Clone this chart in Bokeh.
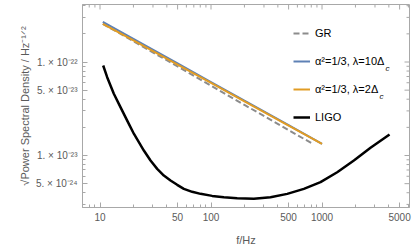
import math
from bokeh.plotting import figure
from bokeh.models import (FixedTicker, CustomJSTickFormatter, Range1d,
                          Legend, LegendItem, Label)
from bokeh.embed import file_html
from bokeh.resources import INLINE

# ---- data ----
f_model = [10.6, 20, 50, 100, 200, 500, 1000]
psd_blue = [2.69e-22, 1.77e-22, 9.66e-23, 6.11e-23, 3.86e-23, 2.11e-23, 1.33e-23]
psd_orange = [2.56e-22, 1.70e-22, 9.36e-23, 5.97e-23, 3.80e-23, 2.09e-23, 1.33e-23]
f_gr = [10.6, 20, 50, 100, 200, 500, 800]
psd_gr = [2.56e-22, 1.67e-22, 8.95e-23, 5.58e-23, 3.48e-23, 1.87e-23, 1.36e-23]
f_ligo = [10.68, 11.60, 12.43, 13.32, 14.78, 16.39, 18.19, 20.17, 22.38, 24.83,
          28.51, 32.73, 37.59, 43.17, 49.57, 56.92, 67.67, 80.43, 102.4, 130.5,
          172.1, 243.1, 343.6, 485.6, 686.0, 969.4, 1370, 1936, 2735, 4057]
psd_ligo = [9.18e-23, 6.88e-23, 5.61e-23, 4.57e-23, 3.57e-23, 2.79e-23, 2.18e-23,
            1.71e-23, 1.39e-23, 1.13e-23, 8.84e-24, 7.20e-24, 6.11e-24, 5.40e-24,
            4.86e-24, 4.40e-24, 4.09e-24, 3.89e-24, 3.70e-24, 3.58e-24, 3.50e-24,
            3.44e-24, 3.58e-24, 3.89e-24, 4.40e-24, 5.19e-24, 6.63e-24, 8.84e-24,
            1.21e-23, 1.68e-23]

x_major = [10, 50, 100, 500, 1000, 5000]
x_minor = [8, 9, 20, 30, 40, 60, 70, 80, 90, 200, 300, 400, 600, 700, 800, 900,
           2000, 3000, 4000, 6000]
y_major = [5e-24, 1e-23, 5e-23, 1e-22]
y_minor = [3e-24, 4e-24, 6e-24, 7e-24, 8e-24, 9e-24, 2e-23, 3e-23, 4e-23, 6e-23,
           7e-23, 8e-23, 9e-23, 2e-22, 3e-22, 4e-22]

labels = ["GR", "\u03b1\u00b2=1/3, \u03bb=10\u0394", "\u03b1\u00b2=1/3, \u03bb=2\u0394", "LIGO"]
subscript = "c"

FONT = "Liberation Sans"
TXT = "#5a5a5a"
FRAME = "#a8a8a8"
X0, X1 = 6.955, 6138
Y0, Y1 = 2.78e-24, 4.12e-22

p = figure(width=415, height=249, x_axis_type="log", y_axis_type="log",
           x_range=Range1d(X0, X1), y_range=Range1d(Y0, Y1),
           output_backend="svg", toolbar_location=None,
           min_border_left=82, min_border_right=6, min_border_top=4,
           min_border_bottom=42)
p.grid.visible = False
p.outline_line_color = FRAME
p.background_fill_color = "white"

sup_js = """
const sup = {'-':'\u207b','0':'\u2070','1':'\u00b9','2':'\u00b2','3':'\u00b3','4':'\u2074',
             '5':'\u2075','6':'\u2076','7':'\u2077','8':'\u2078','9':'\u2079'};
const e = Math.floor(Math.log10(tick) + 1e-9);
const m = Math.round(tick / Math.pow(10, e));
return m + '. \u00d7 10' + String(e).split('').map(c => sup[c]).join('');
"""

for ax in (p.xaxis[0], p.yaxis[0]):
    ax.axis_line_color = FRAME
    ax.major_tick_line_color = FRAME
    ax.minor_tick_line_color = FRAME
    ax.major_tick_out = 0
    ax.major_tick_in = 5
    ax.minor_tick_out = 0
    ax.minor_tick_in = 3
    ax.major_label_text_font = FONT
    ax.major_label_text_font_size = "10px"
    ax.major_label_text_color = TXT
    ax.axis_label_text_font = FONT
    ax.axis_label_text_font_size = "11px"
    ax.axis_label_text_color = TXT
    ax.axis_label_text_font_style = "normal"

p.xaxis[0].ticker = FixedTicker(ticks=x_major, minor_ticks=x_minor)
p.xaxis[0].formatter = CustomJSTickFormatter(code="return String(tick);")
p.xaxis[0].axis_label = "f/Hz"
p.xaxis[0].major_label_standoff = 5
p.xaxis[0].axis_label_standoff = 10

p.yaxis[0].ticker = FixedTicker(ticks=y_major, minor_ticks=y_minor)
p.yaxis[0].formatter = CustomJSTickFormatter(code=sup_js)
p.yaxis[0].axis_label = "\u221aPower Spectral Density / Hz\u207b\u00b9\u141f\u00b2"
p.yaxis[0].major_label_standoff = 5
p.yaxis[0].axis_label_standoff = 2

# mirrored frame ticks on the top and right edges (Mathematica-style frame)
p.ray(x=x_major, y=[Y1] * len(x_major), length=5, length_units="screen",
      angle=-math.pi / 2, line_color=FRAME, line_width=1)
p.ray(x=x_minor, y=[Y1] * len(x_minor), length=3, length_units="screen",
      angle=-math.pi / 2, line_color=FRAME, line_width=1)
p.ray(x=[X1] * len(y_major), y=y_major, length=5, length_units="screen",
      angle=math.pi, line_color=FRAME, line_width=1)
p.ray(x=[X1] * len(y_minor), y=y_minor, length=3, length_units="screen",
      angle=math.pi, line_color=FRAME, line_width=1)

r_gr = p.line(f_gr, psd_gr, line_color="#8c8c8c", line_width=2, line_dash="6 3")
r_blue = p.line(f_model, psd_blue, line_color="#5e81b5", line_width=2)
r_orange = p.line(f_model, psd_orange, line_color="#e19c24", line_width=2)
r_ligo = p.line(f_ligo, psd_ligo, line_color="black", line_width=2.5)

legend = Legend(items=[LegendItem(label=labels[0], renderers=[r_gr]),
                       LegendItem(label=labels[1], renderers=[r_blue]),
                       LegendItem(label=labels[2], renderers=[r_orange]),
                       LegendItem(label=labels[3], renderers=[r_ligo])],
                location=(211, 80), padding=0, margin=0, spacing=8,
                glyph_width=17, glyph_height=20, label_height=20,
                label_standoff=5, border_line_color=None,
                background_fill_alpha=0,
                label_text_font=FONT, label_text_font_size="11px",
                label_text_color="black")
p.add_layout(legend)

# subscript "c" after the Delta in two legend labels (frame-relative screen units)
for sx, sy in ((303, 139), (297, 111)):
    p.add_layout(Label(x=sx, y=sy, x_units="screen", y_units="screen",
                       text=subscript, text_font=FONT, text_font_size="8px",
                       text_font_style="italic", text_color="black",
                       text_baseline="alphabetic"))

out = file_html(p, INLINE)
open("out.html", "w").write(out)
